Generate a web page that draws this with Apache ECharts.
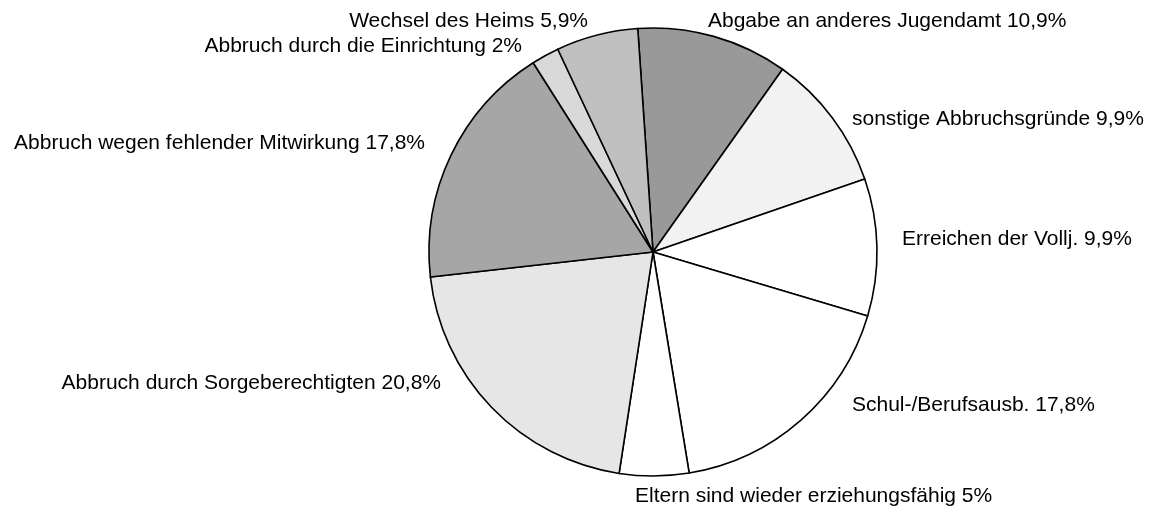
<!DOCTYPE html>
<html>
<head>
    <meta charset="utf-8">
    <title>Beendigungsgründe</title>
    <script type="text/javascript" src="https://cdn.jsdelivr.net/npm/echarts@6/dist/echarts.min.js"></script>
    <style>
        html, body { margin: 0; padding: 0; background: #fff; }
    </style>
</head>
<body>
    <div id="main" style="width:1163px; height:511px;"></div>
    <script type="text/javascript">

    // Kategorien und Anteile (Prozent), im Uhrzeigersinn ab oben
    var categories = [
        'Abgabe an anderes Jugendamt',
        'sonstige Abbruchsgründe',
        'Erreichen der Vollj.',
        'Schul-/Berufsausb.',
        'Eltern sind wieder erziehungsfähig',
        'Abbruch durch Sorgeberechtigten',
        'Abbruch wegen fehlender Mitwirkung',
        'Abbruch durch die Einrichtung',
        'Wechsel des Heims'
    ];
    var shares = [10.9, 9.9, 9.9, 17.8, 5, 20.8, 17.8, 2, 5.9];

    // Graustufen je Segment
    var grays = ['#999999', '#f2f2f2', '#ffffff', '#ffffff', '#ffffff',
                 '#e6e6e6', '#a6a6a6', '#d9d9d9', '#c0c0c0'];

    // Lage der Beschriftungen (x, y, Ausrichtung)
    var labelPos = [
        [708, 21, 'left'],
        [852, 119, 'left'],
        [902, 239, 'left'],
        [852, 405, 'left'],
        [635, 496, 'left'],
        [441, 383, 'right'],
        [425, 143, 'right'],
        [522, 46, 'right'],
        [588, 21, 'right']
    ];

    var myChart = echarts.init(document.getElementById('main'));

    var pieData = categories.map(function (name, i) {
        return {
            name: name,
            value: shares[i],
            itemStyle: { color: grays[i] }
        };
    });

    // Beschriftungen als Text, Inhalt aus den Daten
    var labels = categories.map(function (name, i) {
        var lp = labelPos[i];
        return {
            type: 'text',
            x: lp[0],
            y: lp[1],
            silent: true,
            style: {
                text: name + ' ' + String(shares[i]).replace('.', ',') + '%',
                fill: '#000',
                font: '21px "Liberation Sans", Arial, sans-serif',
                align: lp[2],
                verticalAlign: 'middle',
                textAlign: lp[2],
                textVerticalAlign: 'middle'
            }
        };
    });

    var option = {
        animation: false,
        graphic: labels,
        series: [{
            type: 'pie',
            center: [653, 252],
            radius: 224,
            startAngle: 93.9,
            clockwise: true,
            data: pieData,
            itemStyle: {
                borderColor: '#000',
                borderWidth: 1.6
            },
            emphasis: { disabled: true },
            label: { show: false },
            labelLine: { show: false }
        }]
    };

    myChart.setOption(option);

    </script>
</body>
</html>
